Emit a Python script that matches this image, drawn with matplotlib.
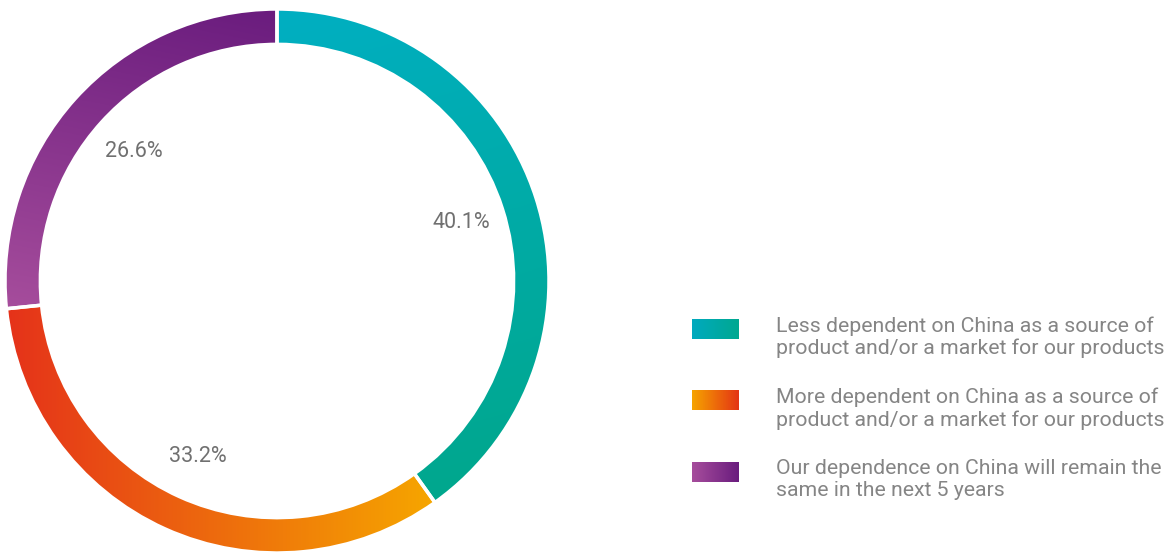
import matplotlib

matplotlib.use("Agg")
import matplotlib.pyplot as plt
import numpy as np
from matplotlib.colors import LinearSegmentedColormap

W, H, DPI = 1168, 556, 100

labels = [
    "Less dependent on China as a source of\nproduct and/or a market for our products",
    "More dependent on China as a source of\nproduct and/or a market for our products",
    "Our dependence on China will remain the\nsame in the next 5 years",
]
shares = [40.1, 33.2, 26.6]

# gradient end colours per segment and the direction the gradient runs in
grad_colors = [("#00AFC2", "#00A78D"), ("#E5321A", "#F6A600"), ("#A64D9C", "#6A1C7E")]
grad_dirs = [(0.3, -1.0), (1.0, 0.0), (0.2, 1.0)]
legend_colors = [("#00AABF", "#00A890"), ("#F6A300", "#E43514"), ("#A64D9C", "#6A1C7E")]

TEXT_GRAY = "#858585"
FONT = "Roboto"

fig = plt.figure(figsize=(W / DPI, H / DPI), dpi=DPI)

# donut
cx, cy, r = 277, 281, 272
ax = fig.add_axes([(cx - r) / W, (H - cy - r) / H, 2 * r / W, 2 * r / H])
ax.set_xlim(-1, 1)
ax.set_ylim(-1, 1)
ax.set_aspect("equal")
ax.axis("off")

wedges, texts, autotexts = ax.pie(
    shares,
    startangle=90,
    counterclock=False,
    radius=1.0,
    wedgeprops=dict(width=0.13, edgecolor="white", linewidth=2.5, facecolor="none", zorder=3),
    autopct=lambda p: f"{p:.1f}%",
    pctdistance=0.71,
    textprops=dict(color="#707070", fontsize=15.5, family=FONT),
)
ax.set_xlim(-1, 1)
ax.set_ylim(-1, 1)

n = 600
xs = np.linspace(-1, 1, n)
X, Y = np.meshgrid(xs, xs)
for wedge, (c0, c1), (dx, dy) in zip(wedges, grad_colors, grad_dirs):
    d = np.array([dx, dy]) / np.hypot(dx, dy)
    verts = wedge.get_path().vertices
    proj = verts @ d
    t = (X * d[0] + Y * d[1] - proj.min()) / (proj.max() - proj.min())
    cmap = LinearSegmentedColormap.from_list("g", [c0, c1])
    im = ax.imshow(np.clip(t, 0, 1), extent=(-1, 1, -1, 1), origin="lower",
                   cmap=cmap, vmin=0, vmax=1, zorder=1, interpolation="bilinear")
    im.set_clip_path(wedge)

# legend drawn in pixel coordinates
lax = fig.add_axes([0, 0, 1, 1])
lax.set_xlim(0, W)
lax.set_ylim(H, 0)
lax.axis("off")
lax.patch.set_alpha(0)

grad = np.linspace(0, 1, 64)[None, :]
for i, (lab, (c0, c1)) in enumerate(zip(labels, legend_colors)):
    yc = 329 + i * 71.5
    cmap = LinearSegmentedColormap.from_list("lg", [c0, c1])
    lax.imshow(grad, extent=(692, 739, yc + 10, yc - 10), cmap=cmap, aspect="auto")
    lax.text(776, yc - 13, lab, ha="left", va="top", color=TEXT_GRAY,
             fontsize=15.3, family=FONT, linespacing=1.2)
lax.set_xlim(0, W)
lax.set_ylim(H, 0)

fig.savefig("out.png", dpi=DPI)
